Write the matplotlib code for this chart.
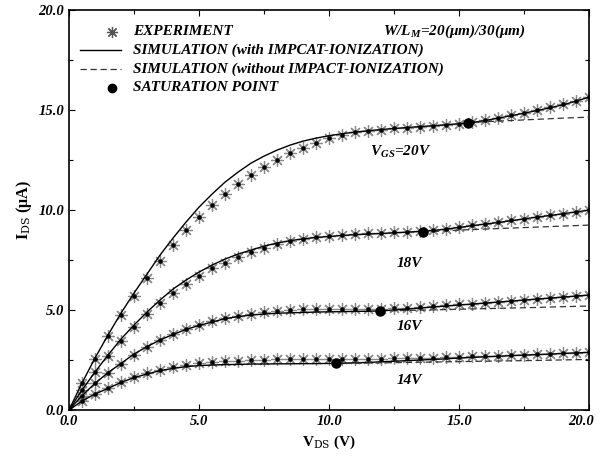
import matplotlib
matplotlib.use("Agg")
import matplotlib.pyplot as plt
import matplotlib.transforms as mtransforms
import numpy as np
from matplotlib.ticker import MultipleLocator, FormatStrFormatter

# ---------------- data ----------------
vds = [0.0, 0.5, 1.0, 1.5, 2.0, 2.5, 3.0, 3.5, 4.0, 4.5, 5.0, 5.5, 6.0, 6.5, 7.0, 7.5,
       8.0, 8.5, 9.0, 9.5, 10.0, 10.5, 11.0, 11.5, 12.0, 12.5, 13.0, 13.5, 14.0, 14.5,
       15.0, 15.5, 16.0, 16.5, 17.0, 17.5, 18.0, 18.5, 19.0, 19.5, 20.0]

sim_20 = [0, 1.35, 2.6, 3.75, 4.85, 5.85, 6.8, 7.75, 8.6, 9.4, 10.15, 10.8, 11.4, 11.9, 12.35, 12.7,
          13.0, 13.25, 13.45, 13.6, 13.72, 13.82, 13.9, 13.97, 14.03, 14.08, 14.13, 14.18, 14.22, 14.27,
          14.32, 14.38, 14.48, 14.6, 14.72, 14.85, 14.98, 15.12, 15.27, 15.45, 15.65]
exp_20 = [0, 1.35, 2.55, 3.7, 4.75, 5.7, 6.6, 7.45, 8.25, 9.0, 9.65, 10.25, 10.8, 11.3, 11.75, 12.15,
          12.5, 12.85, 13.1, 13.35, 13.6, 13.75, 13.9, 13.97, 14.03, 14.1, 14.13, 14.17, 14.22, 14.27,
          14.33, 14.4, 14.5, 14.62, 14.75, 14.88, 15.0, 15.15, 15.3, 15.45, 15.65]

sim_18 = [0, 1.0, 1.9, 2.75, 3.55, 4.25, 4.9, 5.5, 6.05, 6.5, 6.9, 7.25, 7.55, 7.8, 8.0, 8.2,
          8.35, 8.47, 8.56, 8.63, 8.68, 8.73, 8.77, 8.8, 8.83, 8.86, 8.9, 8.93, 8.98, 9.05,
          9.13, 9.22, 9.3, 9.38, 9.47, 9.56, 9.65, 9.73, 9.82, 9.91, 10.0]
exp_18 = [0, 1.0, 1.9, 2.7, 3.45, 4.15, 4.8, 5.35, 5.85, 6.3, 6.7, 7.1, 7.35, 7.65, 7.9, 8.1,
          8.3, 8.45, 8.57, 8.65, 8.72, 8.77, 8.8, 8.83, 8.86, 8.88, 8.9, 8.93, 9.0, 9.07,
          9.15, 9.23, 9.3, 9.4, 9.48, 9.57, 9.65, 9.74, 9.82, 9.9, 9.98]

sim_16 = [0, 0.72, 1.33, 1.87, 2.33, 2.8, 3.17, 3.5, 3.78, 4.03, 4.23, 4.4, 4.57, 4.67, 4.75, 4.8,
          4.84, 4.86, 4.88, 4.9, 4.91, 4.92, 4.93, 4.94, 4.96, 5.0, 5.05, 5.1, 5.15, 5.2,
          5.25, 5.3, 5.35, 5.4, 5.45, 5.5, 5.55, 5.6, 5.65, 5.7, 5.75]
exp_16 = [0, 0.72, 1.33, 1.85, 2.3, 2.75, 3.15, 3.5, 3.8, 4.05, 4.25, 4.45, 4.6, 4.72, 4.82, 4.9,
          4.97, 5.0, 5.03, 5.03, 5.03, 5.03, 5.03, 5.03, 5.05, 5.08, 5.1, 5.15, 5.2, 5.23,
          5.28, 5.32, 5.37, 5.42, 5.47, 5.52, 5.57, 5.62, 5.67, 5.72, 5.75]

sim_14 = [0, 0.45, 0.8, 1.08, 1.38, 1.62, 1.8, 1.97, 2.08, 2.17, 2.22, 2.25, 2.27, 2.28, 2.3, 2.3,
          2.31, 2.31, 2.32, 2.32, 2.33, 2.34, 2.36, 2.38, 2.41, 2.44, 2.47, 2.5, 2.53, 2.56,
          2.6, 2.63, 2.66, 2.69, 2.72, 2.75, 2.77, 2.8, 2.83, 2.86, 2.88]
exp_14 = [0, 0.45, 0.8, 1.1, 1.4, 1.65, 1.85, 2.0, 2.15, 2.25, 2.33, 2.38, 2.43, 2.47, 2.5, 2.52,
          2.53, 2.54, 2.55, 2.55, 2.56, 2.56, 2.56, 2.57, 2.57, 2.58, 2.59, 2.6, 2.62, 2.64,
          2.66, 2.68, 2.7, 2.72, 2.74, 2.76, 2.78, 2.81, 2.84, 2.86, 2.88]

# simulation without impact ionization (beyond saturation)
noii_20_v = [15.33, 16, 17, 18, 19, 20]
noii_20_i = [14.37, 14.42, 14.48, 14.54, 14.6, 14.65]
noii_18_v = [13.6, 15, 16, 17, 18, 19, 20]
noii_18_i = [8.9, 9.0, 9.05, 9.1, 9.15, 9.2, 9.25]
noii_16_v = [11.95, 13, 14, 15, 16, 17, 18, 19, 20]
noii_16_i = [4.95, 4.98, 5.01, 5.04, 5.07, 5.1, 5.13, 5.17, 5.2]
noii_14_v = [10.25, 12, 14, 16, 18, 20]
noii_14_i = [2.33, 2.36, 2.4, 2.44, 2.48, 2.53]

sat_v = [15.33, 13.6, 11.95, 10.25]
sat_i = [14.37, 8.9, 4.95, 2.33]

curve_labels = ["$\\mathbf{V_{GS}}$=20V", "18V", "16V", "14V"]
label_v = [12.75, 13.1, 13.1, 13.1]
label_i = [12.9, 7.35, 4.2, 1.5]

# ---------------- plot ----------------
serif = ["Liberation Serif", "DejaVu Serif"]
plt.rcParams["font.family"] = serif
plt.rcParams["mathtext.fontset"] = "custom"
plt.rcParams["mathtext.rm"] = "Liberation Serif:bold:italic"
plt.rcParams["mathtext.it"] = "Liberation Serif:bold:italic"
plt.rcParams["mathtext.bf"] = "Liberation Serif:bold:italic"

fig = plt.figure(figsize=(6.0, 4.58), dpi=100)
ax = fig.add_axes([0.115, 0.1048, 0.867, 0.873])

star = (8, 2, 0)
for sim in (sim_20, sim_18, sim_16, sim_14):
    ax.plot(vds, sim, color="black", lw=1.0, zorder=3)
for exp in (exp_20, exp_18, exp_16, exp_14):
    ax.plot(vds, exp, linestyle="none", marker=star, ms=9, mew=0.9,
            color="#8a8a8a", zorder=2)
    ax.plot(vds, exp, linestyle="none", marker="o", ms=2.2, color="black", zorder=4)
for v, i in ((noii_20_v, noii_20_i), (noii_18_v, noii_18_i),
             (noii_16_v, noii_16_i), (noii_14_v, noii_14_i)):
    ax.plot(v, i, color="#333333", lw=0.9, linestyle=(0, (5, 3)), zorder=3)
ax.plot(sat_v, sat_i, linestyle="none", marker="o", ms=6.5, color="black", zorder=5)

for t, x, y in zip(curve_labels, label_v, label_i):
    ax.text(x, y, t, fontsize=11, fontweight="bold", fontstyle="italic",
            ha="center", va="center")

ax.set_xlim(0, 20)
ax.set_ylim(0, 20)
ax.xaxis.set_major_locator(MultipleLocator(5))
ax.yaxis.set_major_locator(MultipleLocator(5))
ax.xaxis.set_minor_locator(MultipleLocator(2.5))
ax.yaxis.set_minor_locator(MultipleLocator(2.5))
ax.xaxis.set_major_formatter(FormatStrFormatter("%.1f"))
ax.yaxis.set_major_formatter(FormatStrFormatter("%.1f"))
ax.tick_params(which="both", direction="in", top=True, right=True, width=0.8)
ax.tick_params(which="major", length=4)
ax.tick_params(which="minor", length=3)
for lab in ax.get_xticklabels() + ax.get_yticklabels():
    lab.set_fontweight("bold")
    lab.set_fontstyle("italic")
    lab.set_fontsize(10.5)
for s in ax.spines.values():
    s.set_linewidth(1.2)

# keep the last x tick label inside the figure
fig.canvas.draw()
xlabs = ax.get_xticklabels()
shift = mtransforms.ScaledTranslation(-6 / 72, 0, fig.dpi_scale_trans)
for lab in xlabs:
    if lab.get_text() == "20.0":
        lab.set_transform(lab.get_transform() + shift)

ax.set_xlabel("V$_{\\rm DS}$ (V)", fontsize=11, fontweight="bold", fontstyle="normal", labelpad=4)
ax.set_ylabel("I$_{\\rm DS}$ (\u03bcA)", fontsize=11.5, fontweight="bold", fontstyle="normal", labelpad=2)
ax.xaxis.label.set_math_fontfamily("dejavuserif")
ax.yaxis.label.set_math_fontfamily("dejavuserif")
ax.yaxis.set_label_coords(-0.068, 0.5)

# legend (manual)
tr = ax.transAxes
rows = [0.946, 0.900, 0.853, 0.806]
texts = ["EXPERIMENT", "SIMULATION (with IMPCAT-IONIZATION)",
         "SIMULATION (without IMPACT-IONIZATION)", "SATURATION POINT"]
tx = 0.123
ax.plot([0.082], [rows[0]], transform=tr, marker=star, ms=8, mew=0.9,
        color="#555555", linestyle="none")
ax.plot([0.022, 0.1], [rows[1], rows[1]], transform=tr, color="black", lw=1.0)
ax.plot([0.022, 0.1], [rows[2], rows[2]], transform=tr, color="#333333", lw=0.9,
        linestyle=(0, (5, 3)))
ax.plot([0.082], [rows[3]], transform=tr, marker="o", ms=6, color="black", linestyle="none")
for r, t in zip(rows, texts):
    ax.text(tx, r, t, transform=tr, fontsize=11, fontweight="bold",
            fontstyle="italic", va="center", ha="left")
ax.text(0.604, rows[0], "W/L$_{M}$=20(\u03bcm)/30(\u03bcm)", transform=tr, fontsize=11,
        fontweight="bold", fontstyle="italic", va="center", ha="left")

fig.savefig("out.png", dpi=100)
